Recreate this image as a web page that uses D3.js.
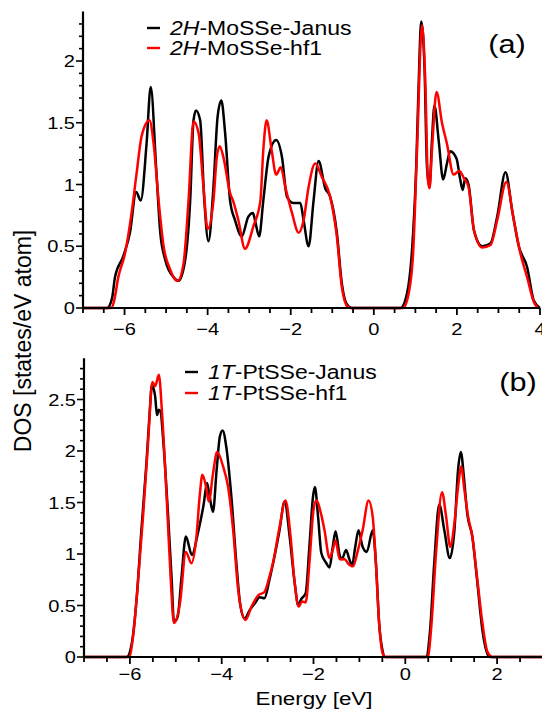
<!DOCTYPE html>
<html>
<head>
<meta charset="utf-8">
<script src="https://cdn.jsdelivr.net/npm/d3@7"></script>
<style>
  html, body { margin: 0; padding: 0; background: #fff; }
  svg { display: block; font-family: "Liberation Sans", Arial, sans-serif; }
</style>
</head>
<body>
<div id="chart"></div>
<script>
// ---- data: [energy eV, DOS] ----
const moJanus = [[-7,0],[-6.42,0],[-6.3,0.08],[-6.23,0.25],[-6.03,0.42],[-5.87,0.61],[-5.72,0.94],[-5.61,0.87],[-5.47,1.33],[-5.37,1.79],[-5.24,1.14],[-5.14,0.61],[-5.02,0.39],[-4.82,0.25],[-4.70,0.22],[-4.54,0.39],[-4.42,0.87],[-4.34,1.52],[-4.28,1.60],[-4.18,1.52],[-4.08,0.87],[-3.98,0.54],[-3.86,0.98],[-3.76,1.55],[-3.67,1.68],[-3.58,1.42],[-3.46,0.87],[-3.34,0.71],[-3.18,0.58],[-3.02,0.74],[-2.91,0.77],[-2.86,0.71],[-2.76,0.58],[-2.66,0.87],[-2.53,1.23],[-2.35,1.36],[-2.21,1.22],[-2.09,0.90],[-1.93,0.85],[-1.77,0.85],[-1.69,0.71],[-1.57,0.50],[-1.45,0.87],[-1.33,1.19],[-1.17,0.97],[-1.05,0.90],[-0.89,0.61],[-0.77,0.20],[-0.65,0.03],[-0.53,0],[0.64,0],[0.80,0.12],[0.92,0.47],[1.02,1.14],[1.08,1.82],[1.14,2.32],[1.22,1.95],[1.28,1.14],[1.34,0.98],[1.40,1.36],[1.46,1.64],[1.56,1.36],[1.67,1.04],[1.76,1.17],[1.84,1.27],[1.99,1.21],[2.08,1.04],[2.14,0.955],[2.20,1.05],[2.28,1.00],[2.41,0.63],[2.61,0.50],[2.81,0.525],[2.97,0.74],[3.17,1.10],[3.33,0.79],[3.49,0.50],[3.69,0.33],[3.85,0.06],[4.0,0]];

const moHf1 = [[-7,0],[-6.32,0],[-6.25,0.06],[-6.15,0.25],[-5.99,0.44],[-5.83,0.77],[-5.71,1.09],[-5.59,1.39],[-5.40,1.52],[-5.30,1.33],[-5.18,0.87],[-5.06,0.50],[-4.90,0.31],[-4.78,0.23],[-4.72,0.22],[-4.58,0.36],[-4.46,0.87],[-4.34,1.51],[-4.22,1.42],[-4.10,0.98],[-4.00,0.64],[-3.86,0.87],[-3.78,1.22],[-3.71,1.31],[-3.62,1.22],[-3.46,0.93],[-3.38,0.86],[-3.26,0.71],[-3.10,0.48],[-2.90,0.66],[-2.73,0.87],[-2.66,1.28],[-2.58,1.52],[-2.46,1.28],[-2.35,1.08],[-2.24,1.14],[-2.13,0.98],[-1.97,0.77],[-1.81,0.61],[-1.69,0.71],[-1.57,0.98],[-1.41,1.17],[-1.25,1.06],[-1.05,0.90],[-0.89,0.58],[-0.77,0.17],[-0.63,0.01],[-0.55,0],[0.70,0],[0.84,0.12],[0.95,0.47],[1.04,1.28],[1.16,2.29],[1.24,1.82],[1.30,1.05],[1.34,0.97],[1.40,1.28],[1.51,1.75],[1.64,1.50],[1.76,1.33],[1.92,1.08],[2.06,1.11],[2.17,1.05],[2.28,0.98],[2.41,0.63],[2.61,0.49],[2.81,0.51],[2.97,0.71],[3.19,1.02],[3.37,0.71],[3.53,0.44],[3.69,0.25],[3.85,0.05],[3.97,0],[4,0]];

const ptJanus = [[-7,0],[-6.07,0],[-5.96,0.13],[-5.85,0.585],[-5.75,1.23],[-5.64,1.88],[-5.57,2.37],[-5.52,2.64],[-5.45,2.53],[-5.41,2.35],[-5.37,2.40],[-5.33,2.38],[-5.28,2.14],[-5.17,1.39],[-5.09,0.75],[-5.04,0.34],[-4.96,0.39],[-4.88,0.75],[-4.78,1.17],[-4.65,0.99],[-4.52,1.20],[-4.39,1.49],[-4.32,1.69],[-4.26,1.55],[-4.19,1.41],[-4.11,1.82],[-4.04,2.14],[-3.98,2.20],[-3.90,2.04],[-3.79,1.56],[-3.68,0.91],[-3.60,0.52],[-3.50,0.375],[-3.39,0.455],[-3.28,0.52],[-3.17,0.58],[-3.07,0.57],[-2.96,0.75],[-2.88,0.91],[-2.74,1.23],[-2.63,1.51],[-2.52,1.17],[-2.41,0.72],[-2.33,0.50],[-2.27,0.56],[-2.17,0.62],[-2.09,1.07],[-2.01,1.56],[-1.97,1.65],[-1.90,1.36],[-1.83,1.01],[-1.72,0.91],[-1.65,0.87],[-1.58,1.07],[-1.52,1.22],[-1.43,0.99],[-1.38,0.95],[-1.29,1.04],[-1.22,0.95],[-1.16,0.89],[-1.09,1.07],[-1.02,1.23],[-0.93,1.07],[-0.84,1.02],[-0.71,1.23],[-0.64,0.91],[-0.57,0.33],[-0.50,0.07],[-0.45,0],[0.45,0],[0.54,0.26],[0.63,0.91],[0.74,1.48],[0.85,1.23],[0.97,0.96],[1.07,1.23],[1.15,1.82],[1.21,1.99],[1.28,1.73],[1.35,1.39],[1.46,1.17],[1.57,0.72],[1.68,0.26],[1.79,0.03],[1.85,0],[3,0]];

const ptHf1 = [[-7,0],[-6.02,0],[-5.93,0.2],[-5.82,0.75],[-5.71,1.39],[-5.60,2.11],[-5.51,2.67],[-5.45,2.63],[-5.37,2.74],[-5.30,2.37],[-5.20,1.56],[-5.11,0.75],[-5.04,0.33],[-4.91,0.52],[-4.78,1.02],[-4.66,0.91],[-4.55,1.17],[-4.48,1.56],[-4.42,1.77],[-4.34,1.65],[-4.28,1.51],[-4.19,1.78],[-4.10,1.99],[-3.97,1.85],[-3.86,1.65],[-3.75,1.23],[-3.64,0.65],[-3.48,0.36],[-3.35,0.49],[-3.20,0.60],[-3.07,0.63],[-2.96,0.78],[-2.88,0.92],[-2.74,1.26],[-2.61,1.52],[-2.50,1.17],[-2.41,0.72],[-2.32,0.49],[-2.25,0.54],[-2.17,0.53],[-2.09,0.91],[-2.00,1.43],[-1.94,1.52],[-1.83,1.38],[-1.76,1.23],[-1.65,0.96],[-1.58,1.04],[-1.52,1.13],[-1.43,0.95],[-1.32,0.95],[-1.25,0.91],[-1.14,0.88],[-1.03,1.04],[-0.93,1.23],[-0.80,1.52],[-0.71,1.36],[-0.64,0.91],[-0.57,0.33],[-0.49,0.03],[-0.43,0],[0.49,0],[0.56,0.26],[0.67,1.01],[0.80,1.60],[0.89,1.36],[0.98,1.07],[1.07,1.30],[1.15,1.65],[1.22,1.85],[1.28,1.65],[1.37,1.36],[1.46,1.17],[1.57,0.75],[1.68,0.33],[1.79,0.05],[1.90,0],[3,0]];

const xTicksA = [-6, -4, -2, 0, 2, 4];
const xTicksB = [-6, -4, -2, 0, 2];
const yTicksA = [0, 0.5, 1, 1.5, 2];
const yTicksB = [0, 0.5, 1, 1.5, 2, 2.5];
const legendA = [["2H", "-MoSSe-Janus"], ["2H", "-MoSSe-hf1"]];
const legendB = [["1T", "-PtSSe-Janus"], ["1T", "-PtSSe-hf1"]];
const colors = ["#000000", "#ff0000"];

const W = 542, H = 713;
const SX = 1.18; // original figure text is a bit wide

const svg = d3.select("#chart").append("svg")
  .attr("width", W).attr("height", H);

// stretched text helper
function txt(g, x, y, s, size, anchor) {
  return g.append("text")
    .attr("transform", `translate(${x},${y}) scale(${SX},1)`)
    .attr("text-anchor", anchor || "start")
    .attr("font-size", size)
    .attr("fill", "#000")
    .text(s);
}

function panel(cfg) {
  const g = svg.append("g");
  const x = d3.scaleLinear().domain(cfg.xDom).range(cfg.xRange);
  const y = d3.scaleLinear().domain(cfg.yDom).range(cfg.yRange);

  // curves
  const line = d3.line()
    .x(d => x(d[0])).y(d => y(d[1]))
    .curve(d3.curveMonotoneX);

  cfg.series.forEach((s, i) => {
    g.append("path")
      .datum(s)
      .attr("d", line)
      .attr("fill", "none")
      .attr("stroke", colors[i])
      .attr("stroke-width", 2.5)
      .attr("stroke-linejoin", "round");
  });

  // minor ticks x (every 0.5)
  const xMinor = d3.range(cfg.xDom[0], cfg.xDom[1] + 0.01, 0.5);
  g.selectAll(".xm").data(xMinor).enter().append("line")
    .attr("x1", d => x(d)).attr("x2", d => x(d))
    .attr("y1", y(0)).attr("y2", d => y(0) + (Math.abs(d % 2) < 1e-6 ? 7 : 5))
    .attr("stroke", "#000").attr("stroke-width", 1.8);

  // minor ticks y (every 0.1)
  const yMinor = d3.range(0, cfg.yDom[1] - 0.05, 0.1);
  g.selectAll(".ym").data(yMinor).enter().append("line")
    .attr("x1", x(cfg.xDom[0])).attr("x2", (d, i) => x(cfg.xDom[0]) - (i % 5 === 0 ? 7 : 4))
    .attr("y1", d => y(d)).attr("y2", d => y(d))
    .attr("stroke", "#000").attr("stroke-width", 1.6);

  // axis lines
  g.append("line")
    .attr("x1", x(cfg.xDom[0]) - 1).attr("x2", cfg.xRange[1])
    .attr("y1", y(0)).attr("y2", y(0))
    .attr("stroke", "#000").attr("stroke-width", 2.2);
  g.append("line")
    .attr("x1", x(cfg.xDom[0])).attr("x2", x(cfg.xDom[0]))
    .attr("y1", y(0)).attr("y2", y(cfg.yDom[1]))
    .attr("stroke", "#000").attr("stroke-width", 2.2);

  // tick labels
  cfg.xTicks.forEach(t => txt(g, x(t), y(0) + cfg.xLabOff, d3.format("d")(t), 17, "middle"));
  cfg.yTicks.forEach(t => txt(g, x(cfg.xDom[0]) - 8, y(t) + 6, String(t), 17, "end"));

  // legend
  cfg.legend.forEach((l, i) => {
    const ly = cfg.legY + i * cfg.legGap;
    g.append("line")
      .attr("x1", cfg.legX).attr("x2", cfg.legX + 13)
      .attr("y1", ly).attr("y2", ly)
      .attr("stroke", colors[i]).attr("stroke-width", 2.4);
    const t = txt(g, cfg.legX + 23, ly + 7, "", 19.5, "start");
    t.append("tspan").attr("font-style", "italic").text(l[0]);
    t.append("tspan").text(l[1]);
  });

  txt(g, cfg.tag[0], cfg.tag[1], cfg.tag[2], 26, "middle");
}

panel({
  xDom: [-7, 4], xRange: [83, 540],
  yDom: [0, 2.4], yRange: [308, 11.6],
  series: [moJanus, moHf1],
  xTicks: xTicksA, yTicks: yTicksA, xLabOff: 27,
  legend: legendA, legX: 147, legY: 28, legGap: 20,
  tag: [507, 53, "(a)"]
});

panel({
  xDom: [-7, 3], xRange: [84, 543],
  yDom: [0, 2.9], yRange: [657, 358.3],
  series: [ptJanus, ptHf1],
  xTicks: xTicksB, yTicks: yTicksB, xLabOff: 23,
  legend: legendB, legX: 185, legY: 372, legGap: 21,
  tag: [518, 391, "(b)"]
});

// axis titles
txt(svg, 314, 705, "Energy [eV]", 19, "middle");
svg.append("text")
  .attr("transform", "translate(31,341) rotate(-90)")
  .attr("text-anchor", "middle")
  .attr("font-size", 23)
  .attr("fill", "#000")
  .text("DOS [states/eV atom]");
</script>
</body>
</html>
